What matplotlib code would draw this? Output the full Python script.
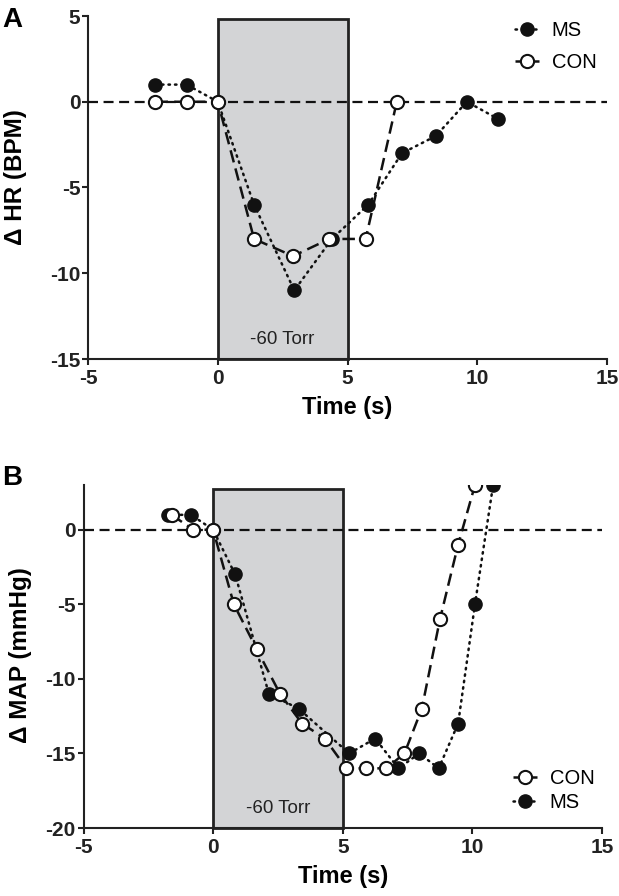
import matplotlib
matplotlib.use('Agg')
import matplotlib.pyplot as plt
from matplotlib.patches import Rectangle

plt.rcParams['font.family'] = ['Liberation Sans', 'DejaVu Sans']
plt.rcParams['axes.unicode_minus'] = False

# panel A : heart rate
hr_ms_t = [-2.4, -1.2, 0, 1.4, 2.95, 4.4, 5.8, 7.1, 8.4, 9.6, 10.8]
hr_ms = [1, 1, 0, -6, -11, -8, -6, -3, -2, 0, -1]
hr_con_t = [-2.4, -1.2, 0, 1.4, 2.9, 4.3, 5.7, 6.9]
hr_con = [0, 0, 0, -8, -9, -8, -8, 0]

# panel B : mean arterial pressure
map_ms_t = [-1.75, -0.85, 0, 0.85, 2.15, 3.3, 5.25, 6.25, 7.15, 7.95, 8.7, 9.45, 10.1, 10.8]
map_ms = [1, 1, 0, -3, -11, -12, -15, -14, -16, -15, -16, -13, -5, 3]
map_con_t = [-1.6, -0.77, 0, 0.8, 1.68, 2.58, 3.43, 4.31, 5.14, 5.9, 6.68, 7.38, 8.05, 8.75, 9.45, 10.1]
map_con = [1, 0, 0, -5, -8, -11, -13, -14, -16, -16, -16, -15, -12, -6, -1, 3]

W, H = 619, 896
fig = plt.figure(figsize=(W / 100, H / 100), dpi=100)
axA = fig.add_axes([88 / W, 1 - 359 / H, (607 - 88) / W, (359 - 16) / H])
axB = fig.add_axes([83.5 / W, 1 - 828 / H, (602 - 83.5) / W, (828 - 485) / H])


def style(ax, ylim, yticks, ylabel, box_top, ylab_x, ylab_y):
    ax.set_xlim(-5, 15)
    ax.set_ylim(*ylim)
    ax.set_xticks([-5, 0, 5, 10, 15])
    ax.set_yticks(yticks)
    for s in ['top', 'right']:
        ax.spines[s].set_visible(False)
    for s in ['left', 'bottom']:
        ax.spines[s].set_linewidth(1.5)
        ax.spines[s].set_color('#222222')
    ax.tick_params(direction='out', length=4, width=1.5, labelsize=15, colors='#222222')
    ax.tick_params(axis='x', pad=3)
    ax.tick_params(axis='y', pad=1.5)
    for lab in ax.get_xticklabels() + ax.get_yticklabels():
        lab.set_fontweight('bold')
    ax.set_xlabel('Time (s)', fontsize=17, fontweight='bold')
    ax.set_ylabel(ylabel, fontsize=17.5, fontweight='bold')
    ax.xaxis.set_label_coords(0.5, -0.108)
    ax.yaxis.set_label_coords(ylab_x, ylab_y)
    ax.add_patch(Rectangle((0, ylim[0]), 5, box_top - ylim[0], facecolor='#d3d4d6',
                           edgecolor='#222222', linewidth=2, zorder=1, clip_on=False))
    ax.text(2.5, ylim[0] + (ylim[1] - ylim[0]) * 0.033, '-60 Torr', ha='center', va='bottom',
            fontsize=13.5, color='#222222', zorder=2)
    ax.axhline(0, color='#111111', linestyle=(0, (4.5, 2.5)), linewidth=1.6, zorder=3)


def plot_ms(ax, t, v):
    ax.plot(t, v, linestyle=(0, (0.6, 2.0)), dash_capstyle='round', color='#111111', linewidth=1.8,
            marker='o', markersize=9.5, markerfacecolor='#111111', markeredgecolor='#111111',
            label='MS', zorder=4)


def plot_con(ax, t, v):
    ax.plot(t, v, linestyle=(0, (5, 2.5)), color='#111111', linewidth=1.8,
            marker='o', markersize=9.5, markerfacecolor='white', markeredgecolor='#111111',
            markeredgewidth=1.5, label='CON', zorder=5)


style(axA, (-15, 5), [-15, -10, -5, 0, 5], '\u0394 HR (BPM)', 4.8, -0.118, 0.53)
plot_ms(axA, hr_ms_t, hr_ms)
plot_con(axA, hr_con_t, hr_con)
axA.legend(loc='upper left', frameon=False, fontsize=14.5, handlelength=1.15, numpoints=1,
           bbox_to_anchor=(515.4 / W, 1 - 21 / H), bbox_transform=fig.transFigure,
           borderpad=0, borderaxespad=0, handletextpad=0.65, labelspacing=0.65)

style(axB, (-20, 3), [-20, -15, -10, -5, 0], '\u0394 MAP (mmHg)', 2.75, -0.099, 0.504)
plot_ms(axB, map_ms_t, map_ms)
plot_con(axB, map_con_t, map_con)
hB, lB = axB.get_legend_handles_labels()
axB.legend(hB[::-1], lB[::-1], loc='upper left', frameon=False, fontsize=14.5, handlelength=1.15,
           numpoints=1, bbox_to_anchor=(513.4 / W, 1 - 769 / H), bbox_transform=fig.transFigure,
           borderpad=0, borderaxespad=0, handletextpad=0.65, labelspacing=0.25)

fig.text(2 / W, 1 - 20 / H, 'A', fontsize=20, fontweight='bold', va='center', ha='left')
fig.text(2 / W, 1 - 478 / H, 'B', fontsize=20, fontweight='bold', va='center', ha='left')

fig.savefig('out.png', dpi=100)
